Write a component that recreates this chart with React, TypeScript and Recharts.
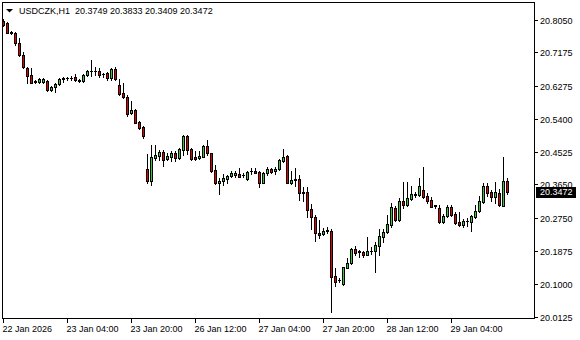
import React from "react";
import { ComposedChart, Bar, XAxis, YAxis } from "recharts";

const symbol = "USDCZK,H1";

// hourly bars, oldest first
const opens = [
	20.8031, 20.7962, 20.7738, 20.7695, 20.7429, 20.7117, 20.6778, 20.6583, 20.6422, 20.6396,
	20.6396, 20.6422, 20.6182, 20.6254, 20.6342, 20.6484, 20.6494, 20.6502, 20.6521, 20.6441,
	20.6422, 20.6574, 20.6689, 20.6689, 20.6697, 20.6618, 20.6645, 20.6494, 20.6751, 20.6316,
	20.6093, 20.6003, 20.5560, 20.5649, 20.5337, 20.5187, 20.4066, 20.3762, 20.4362, 20.4430,
	20.4528, 20.4333, 20.4403, 20.4501, 20.4376, 20.4573, 20.4955, 20.4600, 20.4387, 20.4360,
	20.4403, 20.4688, 20.4493, 20.4048, 20.3693, 20.3762, 20.3816, 20.3880, 20.3914, 20.3941,
	20.3922, 20.3816, 20.4013, 20.4021, 20.4003, 20.3709, 20.3960, 20.4075, 20.4013, 20.4066,
	20.4297, 20.4422, 20.3709, 20.3799, 20.3799, 20.3469, 20.3461, 20.2999, 20.2786, 20.2375,
	20.2332, 20.2428, 20.2428, 20.1219, 20.1120, 20.0998, 20.1441, 20.1559, 20.1940, 20.1878,
	20.1860, 20.1788, 20.1886, 20.1878, 20.2020, 20.2268, 20.2393, 20.2580, 20.3034, 20.2714,
	20.3220, 20.3122, 20.3287, 20.3394, 20.3394, 20.3514, 20.3354, 20.3247, 20.3106, 20.3026,
	20.2668, 20.2820, 20.3052, 20.2874, 20.2668, 20.2580, 20.2695, 20.2668, 20.2802, 20.2962,
	20.3202, 20.3621, 20.3453, 20.3335, 20.3442, 20.3095, 20.3749,
];
const highs = [
	20.8077, 20.8005, 20.7756, 20.7721, 20.7562, 20.7205, 20.6804, 20.6778, 20.6449, 20.6494,
	20.6502, 20.6449, 20.6289, 20.6377, 20.6510, 20.6537, 20.6537, 20.6556, 20.6609, 20.6468,
	20.6609, 20.6716, 20.6983, 20.6804, 20.6761, 20.6645, 20.6671, 20.6778, 20.6804, 20.6468,
	20.6360, 20.6049, 20.5897, 20.5667, 20.5364, 20.5214, 20.4475, 20.4714, 20.4714, 20.4581,
	20.4581, 20.4493, 20.4562, 20.4562, 20.4634, 20.4982, 20.4982, 20.4634, 20.4562, 20.4562,
	20.4714, 20.4848, 20.4509, 20.4181, 20.3826, 20.3941, 20.3914, 20.4029, 20.4029, 20.4093,
	20.3960, 20.4029, 20.4093, 20.4093, 20.4029, 20.4003, 20.4136, 20.4109, 20.4136, 20.4333,
	20.4600, 20.4448, 20.4021, 20.4093, 20.3914, 20.3602, 20.3602, 20.3140, 20.2847, 20.2714,
	20.2492, 20.2519, 20.2465, 20.1425, 20.1166, 20.1467, 20.1692, 20.1958, 20.2020, 20.1913,
	20.1895, 20.2252, 20.2002, 20.2127, 20.2465, 20.2465, 20.2847, 20.3175, 20.3087, 20.3292,
	20.3728, 20.3728, 20.3621, 20.3469, 20.3826, 20.4136, 20.3442, 20.3335, 20.3114, 20.3114,
	20.2874, 20.3114, 20.3114, 20.2935, 20.2935, 20.2733, 20.2759, 20.2847, 20.3114, 20.3354,
	20.3693, 20.3709, 20.3514, 20.3736, 20.3532, 20.4403, 20.3833,
];
const lows = [
	20.7890, 20.7695, 20.7676, 20.7384, 20.7090, 20.6778, 20.6377, 20.6361, 20.6361, 20.6377,
	20.6369, 20.6163, 20.6155, 20.6137, 20.6324, 20.6396, 20.6441, 20.6449, 20.6431, 20.6396,
	20.6396, 20.6556, 20.6556, 20.6574, 20.6537, 20.6521, 20.6449, 20.6449, 20.6441, 20.6049,
	20.5961, 20.5497, 20.5534, 20.5294, 20.5134, 20.4893, 20.3709, 20.3648, 20.4315, 20.4315,
	20.4155, 20.4315, 20.4297, 20.4297, 20.4349, 20.4448, 20.4475, 20.4315, 20.4315, 20.4333,
	20.4387, 20.4448, 20.4003, 20.3674, 20.3399, 20.3639, 20.3693, 20.3853, 20.3869, 20.3853,
	20.3853, 20.3781, 20.3941, 20.3960, 20.3602, 20.3693, 20.3914, 20.3976, 20.3941, 20.4048,
	20.4261, 20.3693, 20.3674, 20.3621, 20.3247, 20.3229, 20.2786, 20.2465, 20.2161, 20.2225,
	20.2305, 20.2359, 20.0267, 20.0961, 20.1067, 20.0979, 20.1425, 20.1532, 20.1780, 20.1718,
	20.1718, 20.1772, 20.1806, 20.1337, 20.1780, 20.2135, 20.2359, 20.2535, 20.2695, 20.2695,
	20.3026, 20.3087, 20.3247, 20.3335, 20.3354, 20.3292, 20.3175, 20.3052, 20.3026, 20.2642,
	20.2626, 20.2802, 20.2820, 20.2607, 20.2553, 20.2519, 20.2553, 20.2428, 20.2759, 20.2935,
	20.3159, 20.3354, 20.3229, 20.3159, 20.3087, 20.3087, 20.3409,
];
const closes = [
	20.7917, 20.7711, 20.7703, 20.7429, 20.7117, 20.6804, 20.6556, 20.6377, 20.6396, 20.6476,
	20.6484, 20.6182, 20.6270, 20.6342, 20.6484, 20.6502, 20.6502, 20.6516, 20.6449, 20.6431,
	20.6574, 20.6697, 20.6697, 20.6681, 20.6574, 20.6602, 20.6494, 20.6743, 20.6468, 20.6075,
	20.6003, 20.5542, 20.5649, 20.5310, 20.5177, 20.4963, 20.3762, 20.4389, 20.4448, 20.4528,
	20.4315, 20.4422, 20.4501, 20.4376, 20.4616, 20.4955, 20.4573, 20.4342, 20.4333, 20.4422,
	20.4688, 20.4493, 20.4029, 20.3693, 20.3762, 20.3834, 20.3888, 20.3968, 20.3976, 20.3869,
	20.3906, 20.4003, 20.4029, 20.3976, 20.3709, 20.3976, 20.4075, 20.4003, 20.4075, 20.4315,
	20.4387, 20.3709, 20.3781, 20.3781, 20.3425, 20.3425, 20.2980, 20.2786, 20.2359, 20.2313,
	20.2420, 20.2439, 20.1201, 20.1067, 20.1104, 20.1451, 20.1559, 20.1940, 20.1841, 20.1860,
	20.1788, 20.1878, 20.1900, 20.2038, 20.2287, 20.2402, 20.2599, 20.3052, 20.2714, 20.3220,
	20.3122, 20.3292, 20.3399, 20.3407, 20.3621, 20.3335, 20.3229, 20.3069, 20.3095, 20.2668,
	20.2820, 20.3052, 20.2847, 20.2642, 20.2580, 20.2695, 20.2700, 20.2820, 20.2962, 20.3229,
	20.3621, 20.3442, 20.3335, 20.3453, 20.3114, 20.3749, 20.3472,
];

// bar index of each time label
const timeTickIndex = [0, 16, 32, 48, 64, 80, 96, 112];
const timeTickLabels = [
	"22 Jan 2026",
	"23 Jan 04:00",
	"23 Jan 20:00",
	"26 Jan 12:00",
	"27 Jan 04:00",
	"27 Jan 20:00",
	"28 Jan 12:00",
	"29 Jan 04:00",
];
const priceTicks = [
	20.0125, 20.1, 20.1875, 20.275, 20.365, 20.4525, 20.54, 20.6275, 20.7175, 20.805,
];

const data = opens.map((open, i) => ({
	i,
	open,
	high: highs[i],
	low: lows[i],
	close: closes[i],
}));
const last = data[data.length - 1];

const FONT = "'Liberation Sans', Arial, sans-serif";
const UP = "#32CD32";
const DOWN = "#E00000";

function Candle(props: any) {
	const { x, y, width, height, payload } = props;
	if (!payload || height == null) return null;
	const { open, high, low, close } = payload;
	const cx = Math.round(x + width / 2 - 0.5) + 0.5;
	const ppu = height / (high - low);
	const py = (v: number) => y + (high - v) * ppu;
	const top = Math.round(py(Math.max(open, close)));
	const bot = Math.round(py(Math.min(open, close)));
	const wTop = Math.round(y);
	const wBot = Math.round(y + height);
	return (
		<g>
			<line x1={cx} x2={cx} y1={wTop} y2={wBot + 1} stroke="#000" strokeWidth={1} />
			{bot - top >= 1 ? (
				<rect
					x={cx - 1}
					y={top + 0.5}
					width={2}
					height={bot - top}
					fill={close >= open ? UP : DOWN}
					stroke="#000"
					strokeWidth={1}
				/>
			) : (
				<line x1={cx - 1.5} x2={cx + 1.5} y1={top + 0.5} y2={top + 0.5} stroke="#000" />
			)}
		</g>
	);
}

function TimeTick(props: any) {
	const { x, payload } = props;
	const k = timeTickIndex.indexOf(payload.value);
	const tx = Math.round(x - 0.5) + 0.5;
	return (
		<g>
			<line x1={tx} x2={tx} y1={319} y2={323} stroke="#000" />
			<text x={tx - 1} y={332} fontSize={9} fontFamily={FONT} fill="#000" textAnchor="start">
				{timeTickLabels[k]}
			</text>
		</g>
	);
}

function PriceTick(props: any) {
	const { y, payload } = props;
	const v = payload.value;
	const ty = Math.round(y - 0.5) + 0.5;
	if (v === last.close) {
		return (
			<g>
				<rect x={536} y={Math.round(y) - 5} width={40} height={11} fill="#000" />
				<text x={540} y={y + 3.5} fontSize={9} fontFamily={FONT} fill="#fff">
					{v.toFixed(4)}
				</text>
			</g>
		);
	}
	return (
		<g>
			<line x1={535} x2={538} y1={ty} y2={ty} stroke="#000" />
			<text x={540} y={y + 3.5} fontSize={9} fontFamily={FONT} fill="#000">
				{v.toFixed(4)}
			</text>
		</g>
	);
}

export default function App() {
	return (
		<div
			style={{
				position: "absolute",
				left: 0,
				top: 0,
				width: 580,
				height: 340,
				background: "#fff",
				overflow: "hidden",
			}}
		>
			<ComposedChart
				width={580}
				height={340}
				data={data}
				margin={{ top: 2, right: 0, bottom: 0, left: 2 }}
			>
				<XAxis
					type="number"
					dataKey="i"
					domain={[-0.375, 132.625]}
					ticks={timeTickIndex}
					interval={0}
					tick={<TimeTick />}
					tickLine={false}
					axisLine={false}
					height={22}
					allowDataOverflow
				/>
				<YAxis
					orientation="right"
					type="number"
					domain={[20.0099, 20.8531]}
					ticks={[...priceTicks, last.close]}
					interval={0}
					tick={<PriceTick />}
					tickLine={false}
					axisLine={false}
					width={46}
					allowDataOverflow
				/>
				<Bar
					dataKey={(d: any) => [d.low, d.high]}
					barSize={3}
					shape={(p: any) => <Candle {...p} />}
					isAnimationActive={false}
				/>
			</ComposedChart>
			<div
				style={{
					position: "absolute",
					left: 2,
					top: 2,
					width: 533,
					height: 317,
					border: "1px solid #000",
					boxSizing: "border-box",
					pointerEvents: "none",
				}}
			/>
			<svg
				width={300}
				height={20}
				style={{ position: "absolute", left: 0, top: 0, pointerEvents: "none" }}
			>
				<polygon points="6,9 13,9 9.5,12.5" fill="#000" />
				<text x={19} y={14} fontSize={9} fontFamily={FONT} fill="#000" style={{ whiteSpace: "pre" }}>
					{`${symbol}  ${last.open.toFixed(4)} ${last.high.toFixed(4)} ${last.low.toFixed(4)} ${last.close.toFixed(4)}`}
				</text>
			</svg>
		</div>
	);
}
